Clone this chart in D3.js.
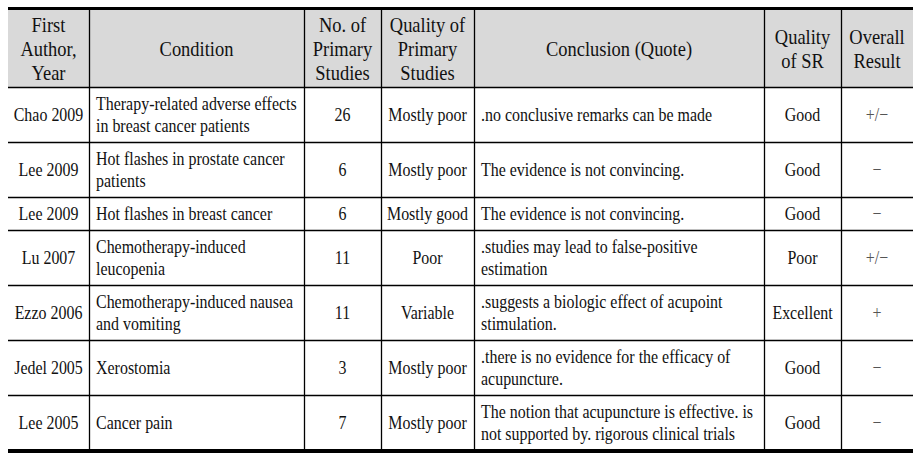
<!DOCTYPE html>
<html>
<head>
<meta charset="utf-8">
<script src="https://cdn.jsdelivr.net/npm/d3@7"></script>
<style>
  body { margin: 0; background: #fff; }
  text { font-family: "Liberation Serif", "DejaVu Serif", serif; fill: #111; }
</style>
</head>
<body>
<script>
// table content, one list per column
var headers = ["First\nAuthor,\nYear", "Condition", "No. of\nPrimary\nStudies",
    "Quality of\nPrimary\nStudies", "Conclusion (Quote)", "Quality\nof SR", "Overall\nResult"];

var authors = ["Chao 2009", "Lee 2009", "Lee 2009", "Lu 2007", "Ezzo 2006", "Jedel 2005", "Lee 2005"];

var conditions = [
    "Therapy-related adverse effects\nin breast cancer patients",
    "Hot flashes in prostate cancer\npatients",
    "Hot flashes in breast cancer",
    "Chemotherapy-induced\nleucopenia",
    "Chemotherapy-induced nausea\nand vomiting",
    "Xerostomia",
    "Cancer pain"];

var nStudies = [26, 6, 6, 11, 11, 3, 7];

var primaryQuality = ["Mostly poor", "Mostly poor", "Mostly good", "Poor", "Variable", "Mostly poor", "Mostly poor"];

var conclusions = [
    ".no conclusive remarks can be made",
    "The evidence is not convincing.",
    "The evidence is not convincing.",
    ".studies may lead to false-positive\nestimation",
    ".suggests a biologic effect of acupoint\nstimulation.",
    ".there is no evidence for the efficacy of\nacupuncture.",
    "The notion that acupuncture is effective. is\nnot supported by. rigorous clinical trials"];

var srQuality = ["Good", "Good", "Good", "Poor", "Excellent", "Good", "Good"];

var overall = ["+/\u2212", "\u2212", "\u2212", "+/\u2212", "+", "\u2212", "\u2212"];

// layout
var W = 921, H = 462;
var tLeft = 8, tRight = 913, tTop = 10;
var colEdges = [tLeft, 89, 304, 381, 474, 764, 841, tRight];
var colAlign = ["middle", "start", "middle", "middle", "start", "middle", "middle"];
var squeeze = 0.84;
var headStyle = {lineH: 24, pad: 5, size: 22};
var bodyStyle = {lineH: 22, pad: 11, size: 19};

var rows = authors.map(function(a, i) {
    return [a, conditions[i], String(nStudies[i]), primaryQuality[i], conclusions[i], srQuality[i], overall[i]];
});
var allRows = [headers].concat(rows);

var svg = d3.select("body").append("svg")
    .attr("width", W)
    .attr("height", H);

// row positions from the number of lines in each row
var y0 = tTop, rowBox = [];
allRows.forEach(function(r, ri) {
    var st = ri === 0 ? headStyle : bodyStyle;
    var n = d3.max(r, function(c) { return c.split("\n").length; });
    var h = n * st.lineH + st.pad;
    rowBox.push({y: y0, h: h});
    y0 += h;
});
var tBottom = y0;

// header background
svg.append("rect")
    .attr("x", tLeft).attr("y", rowBox[0].y)
    .attr("width", tRight - tLeft).attr("height", rowBox[0].h)
    .attr("fill", "#d9d9d9");

// horizontal rules between rows
svg.selectAll("line.h")
    .data(rowBox.slice(1))
    .enter().append("line")
    .attr("x1", tLeft).attr("x2", tRight)
    .attr("y1", function(d) { return d.y + 0.5; })
    .attr("y2", function(d) { return d.y + 0.5; })
    .attr("stroke", "#000").attr("stroke-width", 1.3);

// vertical rules
svg.selectAll("line.v")
    .data(colEdges.slice(1, -1))
    .enter().append("line")
    .attr("x1", function(d) { return d + 0.5; })
    .attr("x2", function(d) { return d + 0.5; })
    .attr("y1", tTop).attr("y2", tBottom)
    .attr("stroke", "#000").attr("stroke-width", 1.3);

// thick top and bottom rules
svg.append("rect").attr("x", tLeft).attr("y", tTop - 3).attr("width", tRight - tLeft).attr("height", 3).attr("fill", "#000");
svg.append("rect").attr("x", tLeft).attr("y", tBottom - 1).attr("width", tRight - tLeft).attr("height", 4).attr("fill", "#000");

// cell text
allRows.forEach(function(r, ri) {
    var st = ri === 0 ? headStyle : bodyStyle;
    var box = rowBox[ri];
    var mid = box.y + box.h / 2;
    r.forEach(function(cell, ci) {
        var lines = cell.split("\n");
        var align = ri === 0 ? "middle" : colAlign[ci];
        var x = align === "middle" ? (colEdges[ci] + colEdges[ci + 1]) / 2 : colEdges[ci] + 7;
        var isSign = ri > 0 && ci === 6;
        lines.forEach(function(t, li) {
            var y = mid + (li - (lines.length - 1) / 2) * st.lineH;
            svg.append("text")
                .attr("transform", "translate(" + x + "," + y + ") scale(" + squeeze + ",1)")
                .attr("dy", "0.35em")
                .attr("text-anchor", align)
                .style("font-size", st.size + "px")
                .style("fill", isSign ? "#555" : null)
                .text(t);
        });
    });
});
</script>
</body>
</html>
